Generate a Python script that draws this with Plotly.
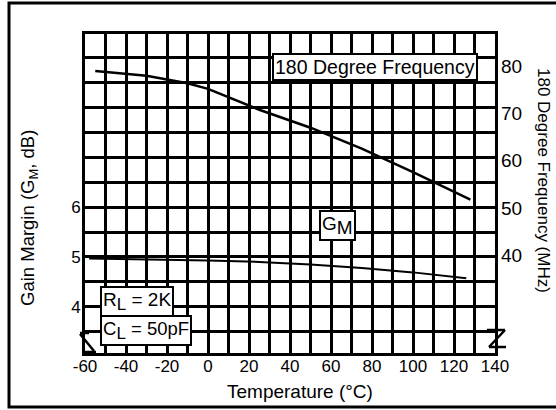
import plotly.graph_objects as go

# Data
temp_freq = [-55, -30, -10, 0, 25, 50, 75, 100, 128]
freq_mhz = [79.0, 78.0, 76.4, 75.2, 70.8, 67.0, 62.6, 57.6, 51.8]

temp_gm = [-58, -20, 0, 25, 50, 75, 100, 126]
gain_margin_db = [4.97, 4.95, 4.93, 4.90, 4.85, 4.78, 4.69, 4.57]

x_ticks = [-60, -40, -20, 0, 20, 40, 60, 80, 100, 120, 140]
x_tick_text = ["-60", "-40", "-20", "0", "20", "40", "60", "80", "100", "120", "140"]
gm_ticks = [4, 5, 6]
freq_ticks = [40, 50, 60, 70, 80]

FONT = "Liberation Sans, Arial, Helvetica, sans-serif"
L, R, T, B = 85, 61, 34, 57
W, H = 556, 410
PW, PH = W - L - R, H - T - B


def px(x):
    return (x - L) / PW


def py(y):
    return (H - B - y) / PH


fig = go.Figure()
fig.add_trace(go.Scatter(x=temp_gm, y=gain_margin_db, mode="lines",
                         line=dict(color="black", width=2), yaxis="y",
                         showlegend=False, hoverinfo="skip"))
fig.add_trace(go.Scatter(x=temp_freq, y=freq_mhz, mode="lines",
                         line=dict(color="black", width=2.5), yaxis="y2",
                         showlegend=False, hoverinfo="skip"))

fig.update_layout(
    width=W, height=H,
    margin=dict(l=L, r=R, t=T, b=B),
    paper_bgcolor="white", plot_bgcolor="white",
    font=dict(family=FONT, size=17, color="black"),
    xaxis=dict(range=[-60, 140], tickvals=x_ticks, ticktext=x_tick_text,
               showgrid=True, gridcolor="black", gridwidth=2.5, zeroline=False,
               showline=True, linecolor="black", linewidth=3, mirror=True,
               ticks="", ticklabelstandoff=-4, tickfont=dict(size=17),
               minor=dict(dtick=10, tick0=0, showgrid=True, gridcolor="black",
                          gridwidth=2.5, ticks="")),
    yaxis=dict(range=[3.07, 9.48], tickvals=gm_ticks, showgrid=True,
               gridcolor="black", gridwidth=2.5, zeroline=False,
               showline=True, linecolor="black", linewidth=3, mirror=True,
               ticks="", ticklabelstandoff=-2, tickfont=dict(size=17),
               minor=dict(dtick=0.5, tick0=0, showgrid=True, gridcolor="black",
                          gridwidth=2.5, ticks="")),
    yaxis2=dict(range=[19.4, 86.8], tickvals=freq_ticks, overlaying="y",
                side="right", showgrid=False, zeroline=False, ticks="",
                ticklabelstandoff=5, tickfont=dict(size=19), showline=False),
)

# axis titles
fig.add_annotation(text="Gain Margin (G<sub>M</sub>, dB)", x=px(29), y=py(218),
                   xref="paper", yref="paper", showarrow=False, textangle=-90,
                   font=dict(family=FONT, size=18.5), xanchor="center", yanchor="middle")
fig.add_annotation(text="180 Degree Frequency (MHz)", x=px(543), y=py(180),
                   xref="paper", yref="paper", showarrow=False, textangle=90,
                   font=dict(family=FONT, size=17), xanchor="center", yanchor="middle")
fig.add_annotation(text="Temperature (\u00b0C)", x=px(300), y=py(391),
                   xref="paper", yref="paper", showarrow=False,
                   font=dict(family=FONT, size=19), xanchor="center", yanchor="middle")

# boxed labels (left/top corner positions in pixels)
boxes = [
    ("180 Degree Frequency", 272, 53, 19.5),
    ("G<sub><span style='font-size:19px'>M</span></sub>", 319, 210, 19),
    ("R<sub><span style='font-size:17px'>L</span></sub> = 2K", 100, 286, 19),
    ("C<sub><span style='font-size:17px'>L</span></sub> = 50pF", 100, 315, 18.5),
]
for text, bx, by, size in boxes:
    fig.add_annotation(text=text, x=px(bx), y=py(by), xref="paper", yref="paper",
                       showarrow=False, xanchor="left", yanchor="top",
                       font=dict(family=FONT, size=size, color="black"),
                       bgcolor="white", bordercolor="black", borderwidth=2,
                       borderpad=1)

# outer frame
fig.add_shape(type="rect", xref="paper", yref="paper",
              x0=px(9), x1=px(575), y0=py(407), y1=py(3),
              line=dict(color="black", width=3), layer="above")


def seg(x0, y0, x1, y1, w=2.5):
    fig.add_shape(type="line", xref="paper", yref="paper",
                  x0=px(x0), y0=py(y0), x1=px(x1), y1=py(y1),
                  line=dict(color="black", width=w))


# axis break symbols
seg(80, 333, 89, 333)
seg(80, 334, 94, 351)
seg(85, 352, 96, 352)
seg(487, 330, 505, 330)
seg(505, 330, 489, 347)
seg(489, 347, 506, 347)

fig.write_html("out.html", config={"displayModeBar": False},
               post_script="document.body.style.margin='0px';")
